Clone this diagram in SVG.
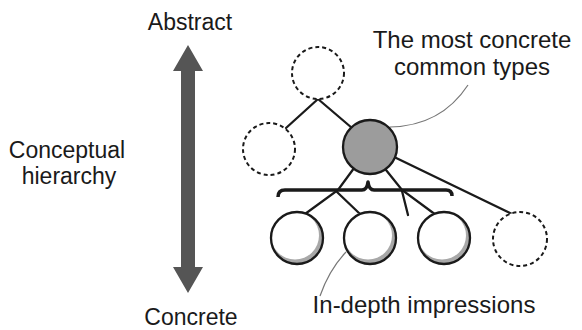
<svg xmlns="http://www.w3.org/2000/svg" width="582" height="330" viewBox="0 0 582 330">
  <style>
    text { font-family: "Liberation Sans", Arial, sans-serif; font-size: 23px; fill: #1a1a1a; }
    .big { font-size: 24px; }
    .edge { stroke: #1a1a1a; stroke-width: 2.3; fill: none; stroke-linecap: round; }
    .callout { stroke: #777; stroke-width: 1.2; fill: none; }
    .ghost { fill: #fff; stroke: #1a1a1a; stroke-width: 2; stroke-dasharray: 4 3; }
    .solid { fill: none; stroke: #1a1a1a; stroke-width: 2.3; }
  </style>
  <defs>
    <!-- white ball with a grey crescent at the lower right -->
    <g id="ball">
      <circle r="26" fill="#a8a8a8"/>
      <circle cx="-2" cy="-2.5" r="24" fill="#fff"/>
      <circle r="26" class="solid"/>
    </g>
  </defs>

  <rect width="582" height="330" fill="#fff"/>

  <!-- axis -->
  <g id="axis">
    <polygon points="188,45 203,71 195,71 195,267 203,267 188,293 173,267 181,267 181,71 173,71" fill="#555"/>
    <text x="190" y="30" text-anchor="middle">Abstract</text>
    <text x="191" y="325" text-anchor="middle">Concrete</text>
  </g>
  <g id="axis-label">
    <text x="67" y="158" text-anchor="middle">Conceptual</text>
    <text x="69" y="184" text-anchor="middle">hierarchy</text>
  </g>

  <!-- connectors -->
  <g id="connectors">
    <line class="edge" x1="318" y1="99" x2="286" y2="128"/>
    <line class="edge" x1="318" y1="99" x2="352" y2="128"/>
    <polyline class="edge" points="360,160 338,190 305,214"/>
    <line class="edge" x1="337" y1="192" x2="360" y2="214"/>
    <polyline class="edge" points="378,160 402,190 436,215"/>
    <line class="edge" x1="402" y1="191" x2="408" y2="215"/>
    <line class="edge" x1="390" y1="155" x2="512" y2="214"/>
    <path d="M278,197 Q278,190 285,190 L362,190 Q367,190 368,182 Q369,190 374,190 L446,190 Q452,190 452,196" fill="none" stroke="#1a1a1a" stroke-width="3.5" stroke-linejoin="round"/>
    <path class="callout" d="M468,85 Q441,126 390,127"/>
    <path class="callout" d="M346,252 Q329,270 320,296"/>
  </g>

  <!-- nodes -->
  <g id="node-top"><circle class="ghost" cx="318" cy="73" r="26"/></g>
  <g id="node-left"><circle class="ghost" cx="269" cy="149" r="26"/></g>
  <g id="node-common"><circle cx="370" cy="147" r="27" fill="#9c9c9c" stroke="#1a1a1a" stroke-width="2.3"/></g>
  <g id="node-impression-1"><use href="#ball" x="297" y="238"/></g>
  <g id="node-impression-2"><use href="#ball" x="370" y="238"/></g>
  <g id="node-impression-3"><use href="#ball" x="444" y="238"/></g>
  <g id="node-right"><circle class="ghost" cx="520" cy="239" r="27"/></g>

  <!-- labels -->
  <g id="labels">
    <text class="big" x="472" y="48" text-anchor="middle">The most concrete</text>
    <text class="big" x="472" y="75" text-anchor="middle">common types</text>
    <text class="big" x="424" y="313" text-anchor="middle">In-depth impressions</text>
  </g>
</svg>
